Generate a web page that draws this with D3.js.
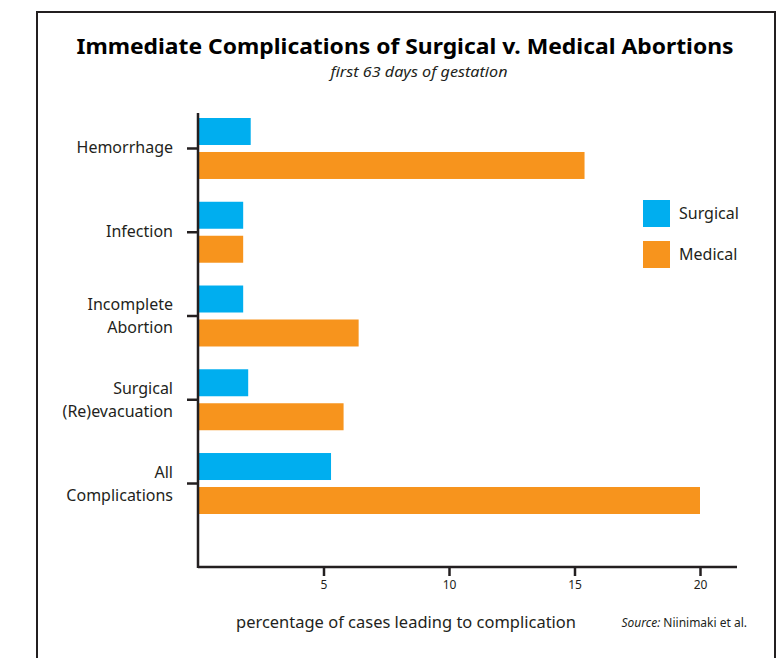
<!DOCTYPE html>
<html>
<head>
<meta charset="utf-8">
<script src="https://cdn.jsdelivr.net/npm/d3@7"></script>
<style>
  body { margin: 0; background: #fff; }
  text { font-family: "Noto Sans", "Open Sans", sans-serif; fill: #231f20; }
</style>
</head>
<body>
<div class="canvas"></div>
<script>
// data
const categories = ['Hemorrhage', 'Infection', 'Incomplete Abortion', 'Surgical (Re)evacuation', 'All Complications']
const catLines = [['Hemorrhage'], ['Infection'], ['Incomplete', 'Abortion'], ['Surgical', '(Re)evacuation'], ['All', 'Complications']]
const seriesNames = ['Surgical', 'Medical']
const surgical = [2.1, 1.8, 1.8, 2.0, 5.3]
const medical = [15.4, 1.8, 6.4, 5.8, 20.0]
const xTicks = [5, 10, 15, 20]
const colours = ['#00aeef', '#f7941d']

const dims = {width: 781, height: 658}

const svg = d3.select('.canvas')
    .append('svg')
    .attr('width', dims.width)
    .attr('height', dims.height)

// frame (open at the bottom)
svg.append('path')
    .attr('d', 'M37,658 V12 H775 V658')
    .attr('fill', 'none')
    .attr('stroke', '#231f20')
    .attr('stroke-width', 2)

// titles
svg.append('text')
    .attr('x', 405).attr('y', 54)
    .attr('text-anchor', 'middle')
    .attr('font-size', 22)
    .attr('font-weight', 'bold')
    .attr('textLength', 657)
    .attr('lengthAdjust', 'spacingAndGlyphs')
    .style('fill', '#000')
    .text('Immediate Complications of Surgical v. Medical Abortions')

svg.append('text')
    .attr('x', 419).attr('y', 77)
    .attr('text-anchor', 'middle')
    .attr('font-size', 14)
    .attr('font-style', 'italic')
    .attr('textLength', 177)
    .attr('lengthAdjust', 'spacingAndGlyphs')
    .text('first 63 days of gestation')

// scales
const x = d3.scaleLinear().domain([0, 20]).range([198, 700])
const y = d3.scaleBand().domain(categories).range([118, 514]).paddingInner(0.272).paddingOuter(0)
const ySub = d3.scaleBand().domain(seriesNames).range([0, y.bandwidth()]).paddingInner(0.206)
const colour = d3.scaleOrdinal().domain(seriesNames).range(colours)

const rows = categories.map((c, i) => ({cat: c, values: [
    {name: 'Surgical', value: surgical[i]},
    {name: 'Medical', value: medical[i]}
]}))

// bars
const groups = svg.selectAll('g.row')
    .data(rows)
    .enter().append('g')
    .attr('class', 'row')
    .attr('transform', d => `translate(0, ${y(d.cat)})`)

groups.selectAll('rect')
    .data(d => d.values)
    .enter().append('rect')
    .attr('x', x(0))
    .attr('y', d => ySub(d.name))
    .attr('width', d => x(d.value) - x(0))
    .attr('height', ySub.bandwidth())
    .attr('fill', d => colour(d.name))

// x axis
const xAxis = d3.axisBottom(x)
    .tickValues(xTicks)
    .tickSize(9)
    .tickPadding(4)
    .tickSizeOuter(0)

const xAxisGroup = svg.append('g')
    .attr('transform', 'translate(0, 567)')
    .call(xAxis)
xAxisGroup.select('.domain').attr('d', `M${x(0)},0H737`).attr('stroke', '#231f20').attr('stroke-width', 2.5)
xAxisGroup.selectAll('.tick line').attr('stroke', '#231f20').attr('stroke-width', 2.5)
xAxisGroup.selectAll('.tick text')
    .attr('font-size', 12)
    .attr('font-family', '"Noto Sans", sans-serif')
    .style('fill', '#231f20')

// y axis, ticks between the two bars of each group
const yMid = c => y(c) + y.bandwidth() / 2
svg.append('line')
    .attr('x1', x(0)).attr('x2', x(0))
    .attr('y1', 113).attr('y2', 568)
    .attr('stroke', '#231f20').attr('stroke-width', 2.5)

svg.selectAll('line.ytick')
    .data(categories)
    .enter().append('line')
    .attr('class', 'ytick')
    .attr('x1', 187).attr('x2', x(0))
    .attr('y1', d => yMid(d)).attr('y2', d => yMid(d))
    .attr('stroke', '#231f20').attr('stroke-width', 2.5)

const labels = svg.selectAll('text.ylab')
    .data(categories)
    .enter().append('text')
    .attr('class', 'ylab')
    .attr('text-anchor', 'end')
    .attr('font-size', 16)
    .attr('transform', d => `translate(173, ${yMid(d)})`)

labels.selectAll('tspan')
    .data((d, i) => catLines[i].map((t, j, arr) => ({t, dy: arr.length === 1 ? 5 : (j === 0 ? -6 : 17)})))
    .enter().append('tspan')
    .attr('x', 0)
    .attr('y', d => d.dy)
    .text(d => d.t)

// legend
const legend = svg.append('g').attr('transform', 'translate(643, 200)')
const items = legend.selectAll('g')
    .data(seriesNames)
    .enter().append('g')
    .attr('transform', (d, i) => `translate(0, ${i * 41})`)
items.append('rect')
    .attr('width', 27).attr('height', 27)
    .attr('fill', d => colour(d))
items.append('text')
    .attr('x', 36).attr('y', 19)
    .attr('font-size', 16)
    .text(d => d)

// axis title and source
svg.append('text')
    .attr('x', 406).attr('y', 628)
    .attr('text-anchor', 'middle')
    .attr('font-size', 17)
    .attr('textLength', 340)
    .attr('lengthAdjust', 'spacingAndGlyphs')
    .text('percentage of cases leading to complication')

const src = svg.append('text')
    .attr('x', 747).attr('y', 627)
    .attr('text-anchor', 'end')
    .attr('font-size', 12)
src.append('tspan').attr('font-style', 'italic').text('Source:')
src.append('tspan').text(' Niinimaki et al.')
</script>
</body>
</html>
